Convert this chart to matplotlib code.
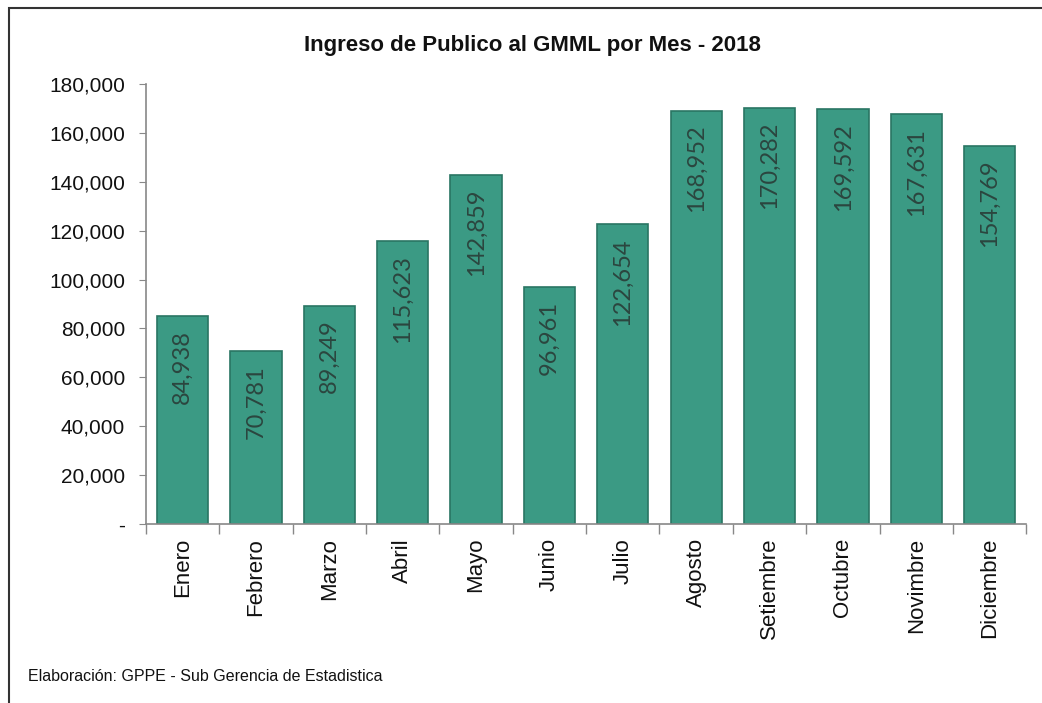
"""Ingreso de Publico al GMML por Mes - 2018 (bar chart recreation)."""

import matplotlib
matplotlib.use("Agg")
import matplotlib.pyplot as plt
from matplotlib.patches import Rectangle
from matplotlib.ticker import FuncFormatter, MultipleLocator

# Data
meses = ["Enero", "Febrero", "Marzo", "Abril", "Mayo", "Junio", "Julio",
         "Agosto", "Setiembre", "Octubre", "Novimbre", "Diciembre"]
visitantes = [84938, 70781, 89249, 115623, 142859, 96961, 122654,
              168952, 170282, 169592, 167631, 154769]

titulo = "Ingreso de Publico al GMML por Mes - 2018"
fuente = "Elaboración: GPPE - Sub Gerencia de Estadistica"

plt.rcParams["font.family"] = ["Liberation Sans", "DejaVu Sans"]

fig = plt.figure(figsize=(10.42, 7.03), dpi=100)
ax = fig.add_axes([0.140, 0.2546, 0.845, 0.626])

x = range(len(meses))
bars = ax.bar(x, visitantes, width=0.7, color="#3b9a84",
              edgecolor="#2a7563", linewidth=1.2, zorder=2)

for xi, v in zip(x, visitantes):
    ax.annotate(f"{v:,}", (xi, v), xytext=(0, -10), textcoords="offset points",
                rotation=90, ha="center", va="top", fontsize=17,
                color="#2b463f", family=["Lato", "DejaVu Sans"])

ax.set_xlim(-0.5, len(meses) - 0.5)
ax.set_ylim(0, 180000)
ax.yaxis.set_major_locator(MultipleLocator(20000))
ax.yaxis.set_major_formatter(FuncFormatter(lambda v, p: "-" if v == 0 else f"{v:,.0f}"))

ax.set_xticks(list(x))
ax.set_xticklabels(meses, rotation=90, fontsize=16, color="#111111")
ax.tick_params(axis="x", length=0, pad=10)
ax.set_xticks([i + 0.5 for i in range(-1, len(meses))], minor=True)
ax.tick_params(axis="x", which="minor", length=7, color="#888888", width=1)
ax.tick_params(axis="y", labelsize=15, length=5, color="#888888", pad=10, labelcolor="#111111")

for s in ["top", "right"]:
    ax.spines[s].set_visible(False)
for s in ["left", "bottom"]:
    ax.spines[s].set_color("#888888")
    ax.spines[s].set_linewidth(1.2)

fig.text(0.511, 0.935, titulo, ha="center", va="center", fontsize=16,
         fontweight="bold", color="#111111")
fig.text(0.027, 0.037, fuente, ha="left", va="center", fontsize=11.5, color="#111111")

# chart frame
fig.patches.append(Rectangle((0.009, -0.01), 1.1, 0.998, transform=fig.transFigure,
                             fill=False, edgecolor="#333333", linewidth=1.5))

fig.savefig("out.png", dpi=100)
